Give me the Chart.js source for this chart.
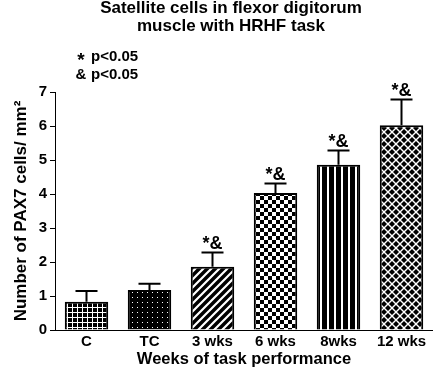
<!DOCTYPE html>
<html>
<head>
<meta charset="utf-8">
<script src="https://cdn.jsdelivr.net/npm/chart.js@4"></script>
<style>
body{margin:0;background:#fff}
</style>
</head>
<body>
<canvas id="barChart" width="433" height="369"></canvas>
<script>
const groups = ["C", "TC", "3 wks", "6 wks", "8wks", "12 wks"];
const pax7_mean = [0.83, 1.18, 1.86, 4.03, 4.86, 6.02];
const pax7_sem = [0.32, 0.18, 0.42, 0.28, 0.42, 0.76];
const sig_marks = ["", "", "*&", "*&", "*&", "*&"];
const y_ticks = [0, 1, 2, 3, 4, 5, 6, 7];
const title_lines = ["Satellite cells in flexor digitorum", "muscle with HRHF task"];
const legend_marks = ["*", "&"];
const legend_text = ["p<0.05", "p<0.05"];

const FONT = "'Liberation Sans', Arial, sans-serif";
Chart.defaults.font.family = FONT;
Chart.defaults.color = "#000";

var ctx = document.getElementById("barChart").getContext("2d");

function tile(w, h, draw) {
  var c = document.createElement("canvas");
  c.width = w; c.height = h;
  var g = c.getContext("2d");
  draw(g, w, h);
  return ctx.createPattern(c, "repeat");
}

// fill patterns, one per bar
var fills = [
  tile(5, 5, function(g){ g.fillStyle="#000"; g.fillRect(0,0,5,5); g.fillStyle="#fff"; g.fillRect(2,0,1,5); g.fillRect(0,2,5,1); }),
  tile(5, 5, function(g){ g.fillStyle="#000"; g.fillRect(0,0,5,5); g.fillStyle="#fff"; g.fillRect(2,2,1,1); }),
  tile(8, 8, function(g){
    g.fillStyle="#000"; g.fillRect(0,0,8,8);
    g.strokeStyle="#fff"; g.lineWidth=2.2;
    g.beginPath();
    g.moveTo(-1,9); g.lineTo(9,-1);
    g.moveTo(-5,5); g.lineTo(5,-5);
    g.moveTo(3,13); g.lineTo(13,3);
    g.stroke();
  }),
  tile(8, 8, function(g){ g.fillStyle="#fff"; g.fillRect(0,0,8,8); g.fillStyle="#000"; g.fillRect(0,0,4,4); g.fillRect(4,4,4,4); }),
  tile(7, 7, function(g){ g.fillStyle="#fff"; g.fillRect(0,0,7,7); g.fillStyle="#000"; g.fillRect(0,0,5,7); }),
  tile(8, 8, function(g){
    g.fillStyle="#fff"; g.fillRect(0,0,8,8);
    g.fillStyle="#000";
    var pts = [[4,4],[0,0],[8,0],[0,8],[8,8]];
    pts.forEach(function(p){
      g.beginPath();
      g.moveTo(p[0], p[1]-3); g.lineTo(p[0]+3, p[1]); g.lineTo(p[0], p[1]+3); g.lineTo(p[0]-3, p[1]);
      g.closePath(); g.fill();
    });
  })
];

const errorBars = {
  id: "errorBars",
  afterDatasetsDraw(chart) {
    var c = chart.ctx;
    var meta = chart.getDatasetMeta(0);
    var y = chart.scales.y;
    c.save();
    c.strokeStyle = "#000";
    c.lineWidth = 2;
    c.fillStyle = "#000";
    c.font = "bold 18px " + FONT;
    c.textAlign = "center";
    c.textBaseline = "alphabetic";
    meta.data.forEach(function(bar, i) {
      var top = y.getPixelForValue(pax7_mean[i] + pax7_sem[i]);
      c.beginPath();
      c.moveTo(bar.x, bar.y);
      c.lineTo(bar.x, top);
      c.moveTo(bar.x - 11, top);
      c.lineTo(bar.x + 11, top);
      c.stroke();
      if (sig_marks[i]) c.fillText(sig_marks[i], bar.x, top - 3);
    });
    c.restore();
  }
};

// title and the p-value key
const headerText = {
  id: "headerText",
  afterDraw(chart) {
    var c = chart.ctx;
    var x0 = chart.chartArea.left + 26;
    c.save();
    c.fillStyle = "#000";
    c.textAlign = "center";
    c.textBaseline = "alphabetic";
    c.font = "bold 17px " + FONT;
    title_lines.forEach(function(t, i) {
      c.fillText(t, 231, 13 + i * 18);
    });
    c.textBaseline = "middle";
    legend_marks.forEach(function(m, i) {
      var yy = 57 + i * 18;
      c.textAlign = "center";
      c.font = (m === "*" ? "bold 19px " : "bold 15px ") + FONT;
      c.fillText(m, x0, m === "*" ? yy + 4 : yy);
      c.textAlign = "left";
      c.font = "bold 15px " + FONT;
      c.fillText(legend_text[i], x0 + 10, yy);
    });
    c.restore();
  }
};

var barChart = new Chart(ctx, {
  type: "bar",
  data: {
    labels: groups,
    datasets: [{
      data: pax7_mean,
      backgroundColor: fills,
      borderColor: "#000",
      borderWidth: 2,
      barPercentage: 0.69,
      categoryPercentage: 1
    }]
  },
  options: {
    responsive: false,
    animation: false,
    layout: { padding: { top: 92, left: 0, right: 0, bottom: 0 } },
    plugins: {
      legend: { display: false },
      tooltip: { enabled: false },
      title: { display: false }
    },
    scales: {
      x: {
        ticks: { color: "#000", font: { size: 15, weight: "bold" }, padding: 3 },
        grid: { display: false, drawTicks: false },
        border: { display: true, color: "#000", width: 1 },
        title: {
          display: true,
          text: "Weeks of task performance",
          color: "#000",
          font: { size: 16.5, weight: "bold" },
          padding: { top: 0, bottom: 0 }
        },
        afterFit: function(s) { s.height = 39; }
      },
      y: {
        min: 0,
        max: 7,
        afterBuildTicks: function(s) { s.ticks = y_ticks.map(function(v){ return { value: v }; }); },
        ticks: { color: "#000", font: { size: 15, weight: "bold" }, padding: 3 },
        grid: { display: true, drawOnChartArea: false, drawTicks: true, tickLength: 5, color: "#000" },
        border: { display: true, color: "#000", width: 1 },
        title: {
          display: true,
          text: "Number of PAX7 cells/ mm²",
          color: "#000",
          font: { size: 17, weight: "bold" },
          padding: { top: 11, bottom: 0 }
        },
        afterFit: function(s) { s.width = 55; }
      }
    }
  },
  plugins: [errorBars, headerText]
});
</script>
</body>
</html>
